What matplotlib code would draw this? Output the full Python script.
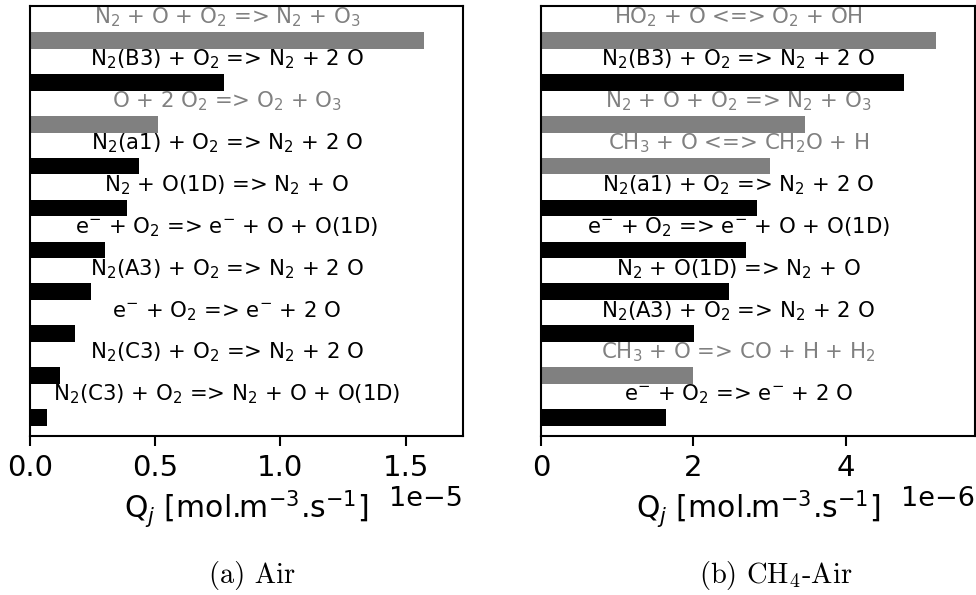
import numpy as np
import matplotlib
matplotlib.use("Agg")
import matplotlib.pyplot as plt

plt.rcParams["mathtext.fontset"] = "dejavusans"

# %%
# Data, top to bottom
# -------------------

AIR_LABELS = [
    r"N$_2$ + O + O$_2$ => N$_2$ + O$_3$",
    r"N$_2$(B3) + O$_2$ => N$_2$ + 2 O",
    r"O + 2 O$_2$ => O$_2$ + O$_3$",
    r"N$_2$(a1) + O$_2$ => N$_2$ + 2 O",
    r"N$_2$ + O(1D) => N$_2$ + O",
    r"e$^{-}$ + O$_2$ => e$^{-}$ + O + O(1D)",
    r"N$_2$(A3) + O$_2$ => N$_2$ + 2 O",
    r"e$^{-}$ + O$_2$ => e$^{-}$ + 2 O",
    r"N$_2$(C3) + O$_2$ => N$_2$ + 2 O",
    r"N$_2$(C3) + O$_2$ => N$_2$ + O + O(1D)",
]
AIR_Q = [1.572e-5, 0.774e-5, 0.511e-5, 0.435e-5, 0.387e-5,
         0.299e-5, 0.243e-5, 0.180e-5, 0.120e-5, 0.068e-5]
AIR_OZONE = [True, False, True, False, False, False, False, False, False, False]

CH4_LABELS = [
    r"HO$_2$ + O <=> O$_2$ + OH",
    r"N$_2$(B3) + O$_2$ => N$_2$ + 2 O",
    r"N$_2$ + O + O$_2$ => N$_2$ + O$_3$",
    r"CH$_3$ + O <=> CH$_2$O + H",
    r"N$_2$(a1) + O$_2$ => N$_2$ + 2 O",
    r"e$^{-}$ + O$_2$ => e$^{-}$ + O + O(1D)",
    r"N$_2$ + O(1D) => N$_2$ + O",
    r"N$_2$(A3) + O$_2$ => N$_2$ + 2 O",
    r"CH$_3$ + O => CO + H + H$_2$",
    r"e$^{-}$ + O$_2$ => e$^{-}$ + 2 O",
]
CH4_Q = [5.18e-6, 4.76e-6, 3.46e-6, 3.00e-6, 2.83e-6,
         2.69e-6, 2.47e-6, 2.01e-6, 2.00e-6, 1.64e-6]
CH4_OZONE = [True, False, True, True, False, False, False, False, True, False]


def plot_panel(ax, labels, q, highlight):
    """Horizontal bars with the reaction written above each bar."""
    n = len(q)
    y = np.arange(n)[::-1]
    colors = ["gray" if h else "black" for h in highlight]
    ax.barh(y, q, height=0.4, color=colors)
    qmax = max(q)
    for yi, lab, c in zip(y, labels, colors):
        ax.text(qmax / 2, yi + 0.55, lab, color=c, fontsize=15.3,
                ha="center", va="center")
    ax.set_xlim(0, 1.1 * qmax)
    ax.set_ylim(-0.44, n - 1 + 0.82)
    ax.set_yticks([])
    ax.set_xlabel(r"Q$_j$ [mol.m$^{-3}$.s$^{-1}$]", fontsize=21.5, labelpad=5)
    ax.tick_params(axis="x", labelsize=21, length=7, width=1.5, pad=6)
    ax.xaxis.get_offset_text().set_fontsize(19.5)
    for sp in ax.spines.values():
        sp.set_linewidth(1.5)


fig = plt.figure(figsize=(9.76, 5.95), dpi=100)
ax_a = fig.add_axes([0.0307, 0.2672, 0.4437, 0.7227])
ax_b = fig.add_axes([0.5543, 0.2672, 0.4447, 0.7227])

plot_panel(ax_a, AIR_LABELS, AIR_Q, AIR_OZONE)
plot_panel(ax_b, CH4_LABELS, CH4_Q, CH4_OZONE)
ax_b.set_xticks([0, 2e-6, 4e-6])

plt.rcParams["mathtext.fontset"] = "cm"
fig.text(252 / 976, 1 - 575 / 595, "(a) Air", family="cmr10",
         fontsize=20.5, ha="center", va="center")
fig.text(776 / 976, 1 - 575 / 595, r"(b) CH$_4$-Air", family="cmr10",
         fontsize=20.5, ha="center", va="center")

fig.savefig("out.png", dpi=100)
